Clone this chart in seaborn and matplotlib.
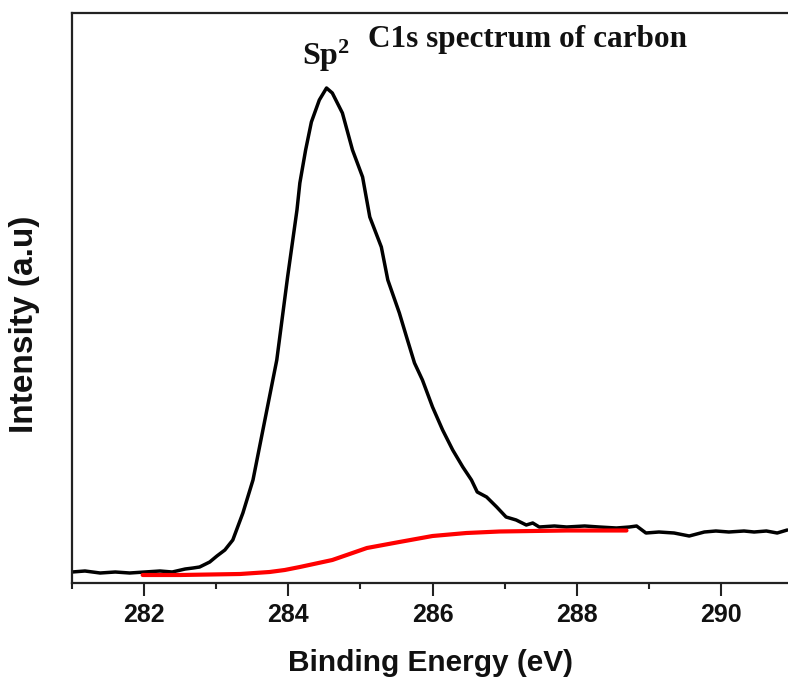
import matplotlib
matplotlib.use("Agg")
import matplotlib.pyplot as plt
import seaborn as sns
import pandas as pd
from matplotlib.ticker import MultipleLocator

# C1s spectrum (black) - binding energy (eV) and intensity (a.u.)
spec_energy = [281.00, 281.18, 281.39, 281.60, 281.80, 282.01, 282.22, 282.39, 282.57, 282.68,
               282.77, 282.91, 283.01, 283.12, 283.23, 283.37, 283.51, 283.62, 283.73, 283.84,
               283.99, 284.12, 284.16, 284.24, 284.32, 284.43, 284.53, 284.61, 284.75, 284.89,
               285.03, 285.13, 285.29, 285.38, 285.54, 285.64, 285.75, 285.86, 286.00, 286.14,
               286.28, 286.42, 286.54, 286.62, 286.75, 286.89, 287.02, 287.16, 287.30, 287.39,
               287.48, 287.69, 287.86, 288.11, 288.31, 288.55, 288.73, 288.83, 288.96, 289.14,
               289.35, 289.56, 289.77, 289.93, 290.11, 290.32, 290.46, 290.63, 290.78, 290.92]
spec_intensity = [11, 12, 10, 11, 10, 11, 12, 11, 14, 15,
                  16, 21, 27, 33, 43, 70, 103, 143, 183, 223,
                  306, 373, 400, 433, 461, 483, 495, 490, 470, 433,
                  406, 366, 336, 303, 270, 246, 220, 203, 176, 153,
                  133, 116, 103, 91, 86, 76, 66, 63, 58, 60,
                  56, 57, 56, 57, 56, 55, 56, 57, 50, 51,
                  50, 47, 51, 52, 51, 52, 51, 52, 50, 53]

# Background (red)
bg_energy = [281.98, 282.50, 283.33, 283.74, 283.95, 284.16, 284.61, 285.09, 285.54,
             286.00, 286.47, 286.93, 287.39, 287.86, 288.31, 288.69]
bg_intensity = [8, 8, 9, 11, 13, 16, 23, 35, 41, 47, 50, 51.5, 52, 52.5, 52.5, 52.5]

x_ticks = [282, 284, 286, 288, 290]

sns.set_theme(style="white")
plt.rcParams['font.family'] = ['Liberation Sans', 'DejaVu Sans']
plt.rcParams['mathtext.fontset'] = 'custom'
plt.rcParams['mathtext.rm'] = 'Liberation Serif:bold'
plt.rcParams['mathtext.it'] = 'Liberation Serif:bold'
plt.rcParams['mathtext.bf'] = 'Liberation Serif:bold'

fig = plt.figure(figsize=(7.88, 6.80), dpi=100)
ax = fig.add_axes([72/788, 1-583/680, 1-72/788, 570/680])

df_spec = pd.DataFrame({"E": spec_energy, "I": spec_intensity})
df_bg = pd.DataFrame({"E": bg_energy, "I": bg_intensity})
sns.lineplot(data=df_spec, x="E", y="I", ax=ax, color="black", lw=2.5, sort=False)
sns.lineplot(data=df_bg, x="E", y="I", ax=ax, color="#ff0000", lw=3.0, sort=False)

ax.set_xlim(281.0, 290.93)
ax.set_ylim(0, 570)
ax.set_xticks(x_ticks)
ax.set_xticklabels([str(t) for t in x_ticks], fontsize=18, fontweight="bold", color="#111111")
ax.xaxis.set_minor_locator(MultipleLocator(1))
ax.set_yticks([])
ax.tick_params(axis="x", which="major", direction="out", length=9.5, width=1.5,
               color="#222222", pad=5, bottom=True)
ax.tick_params(axis="x", which="minor", direction="out", length=4.5, width=1.5,
               color="#222222", bottom=True)

for side in ["left", "bottom", "top"]:
    ax.spines[side].set_visible(True)
    ax.spines[side].set_color("#222222")
    ax.spines[side].set_linewidth(1.6)
ax.spines["right"].set_visible(False)

ax.set_xlabel("Binding Energy (eV)", fontsize=21.5, fontweight="bold", labelpad=16, color="#111111")
ax.set_ylabel("Intensity (a.u)", fontsize=24, fontweight="bold", color="#111111")
ax.yaxis.set_label_coords(-0.045, 0.453)

ax.text(284.19, 518, r"Sp$^2$", fontsize=23, fontfamily="Liberation Serif",
        fontweight="bold", ha="left", va="baseline", color="#111111")
ax.text(285.10, 536, "C1s spectrum of carbon", fontsize=22.5, fontfamily="Liberation Serif",
        fontweight="bold", ha="left", va="baseline", color="#111111")

fig.savefig("out.png", dpi=100, facecolor="white")
